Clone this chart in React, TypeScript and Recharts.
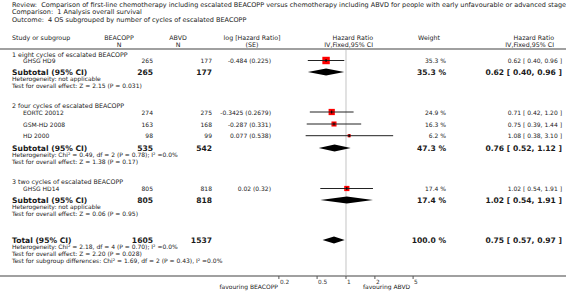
import { ComposedChart, Scatter, XAxis, YAxis, ReferenceLine } from "recharts";

// ---- data ----
const groupTitles = [
  "1 eight cycles of escalated BEACOPP",
  "2 four cycles of escalated BEACOPP",
  "3 two cycles of escalated BEACOPP",
];
const studyNames = ["GHSG HD9", "EORTC 20012", "GSM-HD 2008", "HD 2000", "GHSG HD14"];
const studyBeacoppN = [265, 274, 163, 98, 805];
const studyAbvdN = [177, 275, 168, 99, 818];
const studyLogHr = ["-0.484", "-0.3425", "-0.287", "0.077", "0.02"];
const studySe = ["0.225", "0.2679", "0.331", "0.538", "0.32"];
const studyWeight = [35.3, 24.9, 16.3, 6.2, 17.4];
const studyHr = [0.62, 0.71, 0.75, 1.08, 1.02];
const studyLo = [0.4, 0.42, 0.39, 0.38, 0.54];
const studyHi = [0.96, 1.2, 1.44, 3.1, 1.91];

const subtotalBeacoppN = [265, 535, 805];
const subtotalAbvdN = [177, 542, 818];
const subtotalWeight = [35.3, 47.3, 17.4];
const subtotalHr = [0.62, 0.76, 1.02];
const subtotalLo = [0.4, 0.52, 0.54];
const subtotalHi = [0.96, 1.12, 1.91];
const subtotalHeterogeneity = [
  "Heterogeneity: not applicable",
  "Heterogeneity: Chi² = 0.49, df = 2 (P = 0.78); I² =0.0%",
  "Heterogeneity: not applicable",
];
const subtotalEffect = [
  "Test for overall effect: Z = 2.15 (P = 0.031)",
  "Test for overall effect: Z = 1.38 (P = 0.17)",
  "Test for overall effect: Z = 0.06 (P = 0.95)",
];

const totalBeacoppN = 1605;
const totalAbvdN = 1537;
const totalWeight = 100.0;
const totalHr = 0.75;
const totalLo = 0.57;
const totalHi = 0.97;
const totalNotes = [
  "Heterogeneity: Chi² = 2.18, df = 4 (P = 0.70); I² =0.0%",
  "Test for overall effect: Z = 2.20 (P = 0.028)",
  "Test for subgroup differences: Chi² = 1.69, df = 2 (P = 0.43), I² =0.0%",
];

const axisTicks = [0.2, 0.5, 1, 2, 5];

const titleLines = [
  "Review:  Comparison of first-line chemotherapy including escalated BEACOPP versus chemotherapy including ABVD for people with early unfavourable or advanced stage Hodgkin lymphoma",
  "Comparison:  1 Analysis overall survival",
  "Outcome:  4 OS subgrouped by number of cycles of escalated BEACOPP",
];

// ---- layout ----
const W = 566;
const H = 300;
const AXIS_Y = 276;
const X_DOMAIN: [number, number] = [0.000249, 195.7];
const titleY = [4.5, 12, 19.5];
const groupTitleY = [54.5, 105.5, 182];
const studyY = [60.5, 112, 124, 135.7, 188.5];
const subtotalY = [72, 148, 200];
const totalY = 240;

const FONT = "'DejaVu Sans', Verdana, sans-serif";
const INK = "#1a1a1a";
const TITLE = 6.5;
const NORMAL = 6.3;
const SMALL = 6;
const BOLD = 7.6;

const col = { left: 12, study: 23, beacopp: 153, abvd: 212, logHr: 271, weight: 446, hr: 562 };

const fmtCi = (hr: number, lo: number, hi: number) =>
  `${hr.toFixed(2)} [ ${lo.toFixed(2)}, ${hi.toFixed(2)} ]`;
const fmtW = (w: number) => `${w.toFixed(1)} %`;

function T({
  x,
  y,
  children,
  anchor = "start",
  size = NORMAL,
  bold = false,
}: {
  x: number;
  y: number;
  children: React.ReactNode;
  anchor?: "start" | "middle" | "end";
  size?: number;
  bold?: boolean;
}) {
  return (
    <text
      x={x}
      y={y + size * 0.36}
      textAnchor={anchor}
      fontSize={size}
      fontWeight={bold ? "bold" : "normal"}
      fill={INK}
      xmlSpace="preserve"
      style={{ whiteSpace: "pre" }}
    >
      {children}
    </text>
  );
}

const noDot = () => <g />;

function WeightSquare(props: any) {
  const { cx, cy, payload } = props;
  const s = Math.sqrt(payload.weight) * 1.25;
  return <rect x={cx - s / 2} y={cy - s / 2} width={s} height={s} fill="#ff0000" />;
}

function CenterTick(props: any) {
  const { cx, cy } = props;
  return <line x1={cx} x2={cx} y1={cy - 1.5} y2={cy + 1.5} stroke="#000" strokeWidth={1} />;
}

function Diamond(props: any) {
  const pts = props.points || [];
  if (pts.length < 3) return <g />;
  const [a, m, b] = pts;
  const h = 3.5;
  return (
    <polygon
      points={`${a.x},${a.y} ${m.x},${m.y - h} ${b.x},${b.y} ${m.x},${m.y + h}`}
      fill="#000"
      stroke="none"
    />
  );
}

function AxisTick(props: any) {
  const { x, y, payload } = props;
  return (
    <text x={x + 1} y={y + 3.6} fontSize={5.8} fill="#333" fontFamily={FONT} textAnchor="start">
      {payload.value}
    </text>
  );
}

export default function App() {
  const squares = studyNames.map((_, i) => ({ hr: studyHr[i], y: studyY[i], weight: studyWeight[i] }));
  const ciLines = studyNames.map((_, i) => [
    { hr: studyLo[i], y: studyY[i] },
    { hr: studyHi[i], y: studyY[i] },
  ]);
  const diamonds = [
    ...subtotalHr.map((hr, i) => [
      { hr: subtotalLo[i], y: subtotalY[i] },
      { hr, y: subtotalY[i] },
      { hr: subtotalHi[i], y: subtotalY[i] },
    ]),
    [
      { hr: totalLo, y: totalY },
      { hr: totalHr, y: totalY },
      { hr: totalHi, y: totalY },
    ],
  ];

  return (
    <div style={{ position: "absolute", left: 0, top: 0, width: W, height: H, background: "#fff" }}>
      <ComposedChart width={W} height={H} margin={{ top: 0, right: 0, bottom: 0, left: 0 }}>
        <XAxis
          type="number"
          dataKey="hr"
          scale="log"
          domain={X_DOMAIN}
          allowDataOverflow
          ticks={axisTicks}
          interval={0}
          height={H - AXIS_Y}
          tickSize={3}
          tickMargin={1}
          axisLine={{ stroke: "#a0a0a0", strokeWidth: 2 }}
          tickLine={{ stroke: "#555" }}
          tick={AxisTick}
        />
        <YAxis type="number" dataKey="y" domain={[0, AXIS_Y]} reversed hide allowDataOverflow />
        <ReferenceLine
          segment={[
            { x: 1, y: 48 },
            { x: 1, y: AXIS_Y },
          ]}
          stroke="#c4c4c4"
          strokeWidth={1}
          ifOverflow="visible"
        />
        <Scatter data={squares} shape={WeightSquare} isAnimationActive={false} />
        {ciLines.map((d, i) => (
          <Scatter
            key={"ci" + i}
            data={d}
            fill="#000"
            shape={noDot}
            line={{ stroke: "#222", strokeWidth: 1 }}
            isAnimationActive={false}
          />
        ))}
        <Scatter data={squares} shape={CenterTick} isAnimationActive={false} />
        {diamonds.map((d, i) => (
          <Scatter key={"dm" + i} data={d} shape={noDot} line={Diamond} isAnimationActive={false} />
        ))}
      </ComposedChart>

      <svg
        width={W}
        height={H}
        style={{ position: "absolute", left: 0, top: 0, pointerEvents: "none", fontFamily: FONT }}
      >
        {titleLines.map((t, i) => (
          <T key={"t" + i} x={col.left} y={titleY[i]} size={TITLE}>
            {t}
          </T>
        ))}

        <T x={col.left} y={37.5}>Study or subgroup</T>
        <T x={119} y={37.5} anchor="middle">BEACOPP</T>
        <T x={119} y={44.5} anchor="middle">N</T>
        <T x={178} y={37.5} anchor="middle">ABVD</T>
        <T x={178} y={44.5} anchor="middle">N</T>
        <T x={252} y={37.5} anchor="middle">log [Hazard Ratio]</T>
        <T x={252} y={44.5} anchor="middle">(SE)</T>
        <T x={373} y={37.5} anchor="end">Hazard Ratio</T>
        <T x={373} y={44.5} anchor="end">IV,Fixed,95% CI</T>
        <T x={429} y={37.5} anchor="middle">Weight</T>
        <T x={554} y={37.5} anchor="end">Hazard Ratio</T>
        <T x={554} y={44.5} anchor="end">IV,Fixed,95% CI</T>
        <line x1={0} x2={W} y1={49} y2={49} stroke="#a0a0a0" strokeWidth={2} />

        {groupTitles.map((g, i) => (
          <T key={"g" + i} x={col.left} y={groupTitleY[i]}>
            {g}
          </T>
        ))}

        {studyNames.map((name, i) => (
          <g key={"s" + i}>
            <T x={col.study} y={studyY[i] + 0.5} size={SMALL}>{name}</T>
            <T x={col.beacopp} y={studyY[i] + 0.5} size={SMALL} anchor="end">{String(studyBeacoppN[i])}</T>
            <T x={col.abvd} y={studyY[i] + 0.5} size={SMALL} anchor="end">{String(studyAbvdN[i])}</T>
            <T x={col.logHr} y={studyY[i] + 0.5} size={SMALL} anchor="end">{`${studyLogHr[i]} (${studySe[i]})`}</T>
            <T x={col.weight} y={studyY[i] + 0.5} size={SMALL} anchor="end">{fmtW(studyWeight[i])}</T>
            <T x={col.hr} y={studyY[i] + 0.5} size={SMALL} anchor="end">
              {fmtCi(studyHr[i], studyLo[i], studyHi[i])}
            </T>
          </g>
        ))}

        {subtotalHr.map((hr, i) => (
          <g key={"st" + i}>
            <T x={col.left} y={subtotalY[i]} size={BOLD} bold>Subtotal (95% CI)</T>
            <T x={col.beacopp} y={subtotalY[i]} size={BOLD} bold anchor="end">{String(subtotalBeacoppN[i])}</T>
            <T x={col.abvd} y={subtotalY[i]} size={BOLD} bold anchor="end">{String(subtotalAbvdN[i])}</T>
            <T x={col.weight} y={subtotalY[i]} size={BOLD} bold anchor="end">{fmtW(subtotalWeight[i])}</T>
            <T x={col.hr} y={subtotalY[i]} size={BOLD} bold anchor="end">
              {fmtCi(hr, subtotalLo[i], subtotalHi[i])}
            </T>
            <T x={col.left} y={subtotalY[i] + 7} size={SMALL}>{subtotalHeterogeneity[i]}</T>
            <T x={col.left} y={subtotalY[i] + 14} size={SMALL}>{subtotalEffect[i]}</T>
          </g>
        ))}

        <T x={col.left} y={totalY} size={BOLD} bold>Total (95% CI)</T>
        <T x={col.beacopp} y={totalY} size={BOLD} bold anchor="end">{String(totalBeacoppN)}</T>
        <T x={col.abvd} y={totalY} size={BOLD} bold anchor="end">{String(totalAbvdN)}</T>
        <T x={col.weight} y={totalY} size={BOLD} bold anchor="end">{fmtW(totalWeight)}</T>
        <T x={col.hr} y={totalY} size={BOLD} bold anchor="end">{fmtCi(totalHr, totalLo, totalHi)}</T>
        {totalNotes.map((t, i) => (
          <T key={"tn" + i} x={col.left} y={totalY + 7 * (i + 1)} size={SMALL}>
            {t}
          </T>
        ))}

        <T x={278} y={287} size={SMALL} anchor="end">favouring BEACOPP</T>
        <T x={363} y={287} size={SMALL}>favouring ABVD</T>
      </svg>
    </div>
  );
}
